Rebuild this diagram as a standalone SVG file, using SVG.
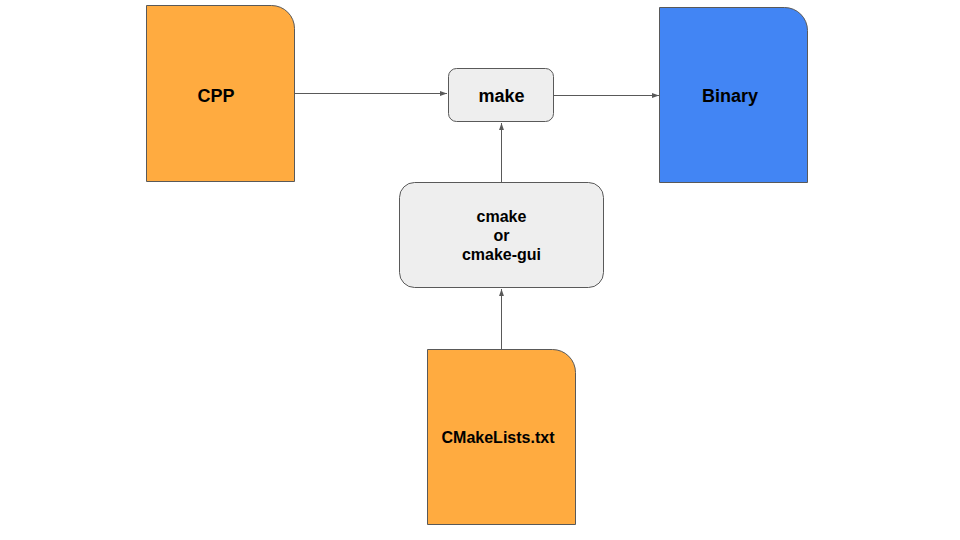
<svg xmlns="http://www.w3.org/2000/svg" width="960" height="540" viewBox="0 0 960 540">
<defs>
<style>
.doc{stroke:#595959;stroke-width:1}
.orange{fill:#FFAB40}
.blue{fill:#4285F4}
.box{fill:#EEEEEE;stroke:#595959;stroke-width:1}
.lbl{font-family:"Liberation Sans",Arial,sans-serif;font-weight:bold;fill:#000;text-anchor:middle}
.conn{stroke:#595959;stroke-width:1;fill:none;marker-end:url(#ah)}
</style>
<marker id="ah" viewBox="0 0 10 10" refX="10" refY="5" markerWidth="7" markerHeight="7" markerUnits="userSpaceOnUse" orient="auto">
<path d="M0,1.5 L10,5 L0,8.5 Z" fill="#595959"/>
</marker>
</defs>
<rect width="960" height="540" fill="#FFFFFF"/>
<g id="connectors">
<line class="conn" x1="295" y1="93.5" x2="447" y2="93.5"/>
<line class="conn" x1="554" y1="95.5" x2="659" y2="95.5"/>
<line class="conn" x1="501.5" y1="182" x2="501.5" y2="123"/>
<line class="conn" x1="501.5" y1="349" x2="501.5" y2="289"/>
</g>
<g id="cpp">
<path class="doc orange" d="M146.5,5.5 H271.5 A23,23 0 0 1 294.5,28.5 V181.5 H146.5 Z"/>
<text class="lbl" x="216" y="102" font-size="18">CPP</text>
</g>
<g id="make">
<rect class="box" x="448.5" y="68.5" width="105" height="53" rx="8"/>
<text class="lbl" x="501.5" y="102" font-size="18">make</text>
</g>
<g id="binary">
<path class="doc blue" d="M659.5,7.5 H784.5 A23,23 0 0 1 807.5,30.5 V182.5 H659.5 Z"/>
<text class="lbl" x="730" y="102" font-size="18">Binary</text>
</g>
<g id="cmake">
<rect class="box" x="399.5" y="182.5" width="204" height="105" rx="15"/>
<text class="lbl" x="501.5" y="222" font-size="16">cmake</text>
<text class="lbl" x="501.5" y="241" font-size="16">or</text>
<text class="lbl" x="501.5" y="260" font-size="16">cmake-gui</text>
</g>
<g id="cmakelists">
<path class="doc orange" d="M427.5,349.5 H552.5 A23,23 0 0 1 575.5,372.5 V524.5 H427.5 Z"/>
<text class="lbl" x="498" y="443" font-size="16">CMakeLists.txt</text>
</g>
</svg>
